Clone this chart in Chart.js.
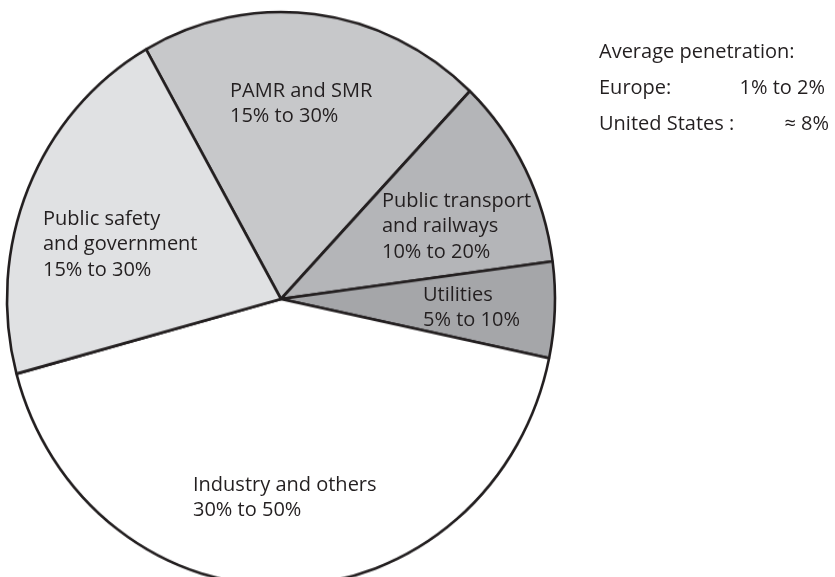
<!DOCTYPE html>
<html>
<head>
<meta charset="utf-8">
<script src="https://cdn.jsdelivr.net/npm/chart.js@4/dist/chart.umd.min.js"></script>
<style>
  body { margin: 0; background: #fff; }
  #wrap { position: relative; width: 835px; height: 577px; overflow: hidden; font-family: "Open Sans", "Noto Sans", sans-serif; color: #231f20; }
  /* the pie is slightly taller than wide */
  #pie { position: absolute; left: 0; top: 0; width: 835px; height: 577px; transform: scaleY(1.0474); transform-origin: 0 299px; }
  .lbl { position: absolute; font-size: 20px; line-height: 25.5px; white-space: nowrap; }
  .note { position: absolute; font-size: 20px; white-space: nowrap; }
</style>
</head>
<body>
<div id="wrap">
  <div id="pie"><canvas id="myChart"></canvas></div>
</div>
<script>
// segmentos (en orden horario desde el borde superior izquierdo)
const categories = ['PAMR and SMR', 'Public transport and railways', 'Utilities', 'Industry and others', 'Public safety and government'];
const shares = [20.3, 10.8, 5.4, 42.5, 21.0];
const ranges = ['15% to 30%', '10% to 20%', '5% to 10%', '30% to 50%', '15% to 30%'];
const labelLines = [['PAMR and SMR'], ['Public transport', 'and railways'], ['Utilities'], ['Industry and others'], ['Public safety', 'and government']];
const fills = ['#c7c8ca', '#b4b5b8', '#a5a6a9', '#ffffff', '#e0e1e3'];

// texto de la derecha
const noteTitle = 'Average penetration:';
const noteRegions = ['Europe:', 'United States :'];
const noteValues = ['1% to 2%', '\u2248 8%'];

// posicion de cada etiqueta (izquierda, arriba)
const labelPos = [[230, 76.5], [382, 186.5], [423, 280.5], [193, 470.5], [43, 204.5]];

const wrap = document.getElementById('wrap');

// etiquetas de los segmentos
categories.forEach((c, i) => {
    const d = document.createElement('div');
    d.className = 'lbl';
    d.style.left = labelPos[i][0] + 'px';
    d.style.top = labelPos[i][1] + 'px';
    d.innerHTML = labelLines[i].concat([ranges[i]]).join('<br>');
    wrap.appendChild(d);
});

// nota de penetracion media (x negativa = alineado a la derecha)
function nota(txt, x, y) {
    const d = document.createElement('div');
    d.className = 'note';
    if (x < 0) d.style.right = (-x) + 'px';
    else d.style.left = x + 'px';
    d.style.top = y + 'px';
    d.textContent = txt;
    wrap.appendChild(d);
}
nota(noteTitle, 599, 36.5);
nota(noteRegions[0], 599, 73);
nota(noteValues[0], -10, 73);
nota(noteRegions[1], 599, 108.5);
nota(noteValues[1], -6, 108.5);

const ctx = document.getElementById('myChart').getContext('2d');
const myChart = new Chart(ctx, {
    type: 'pie',
    data: {
        labels: categories,
        datasets: [{
            data: shares,
            backgroundColor: fills,
            borderColor: '#231f20',
            borderWidth: 2.6,
            clip: false
        }]
    },
    options: {
        responsive: true,
        maintainAspectRatio: false,
        animation: false,
        events: [],
        rotation: -29.5,
        radius: 274,
        layout: { padding: { top: 21, right: 273, left: 0, bottom: 0 } },
        plugins: {
            legend: { display: false },
            tooltip: { enabled: false }
        }
    }
});
</script>
</body>
</html>
